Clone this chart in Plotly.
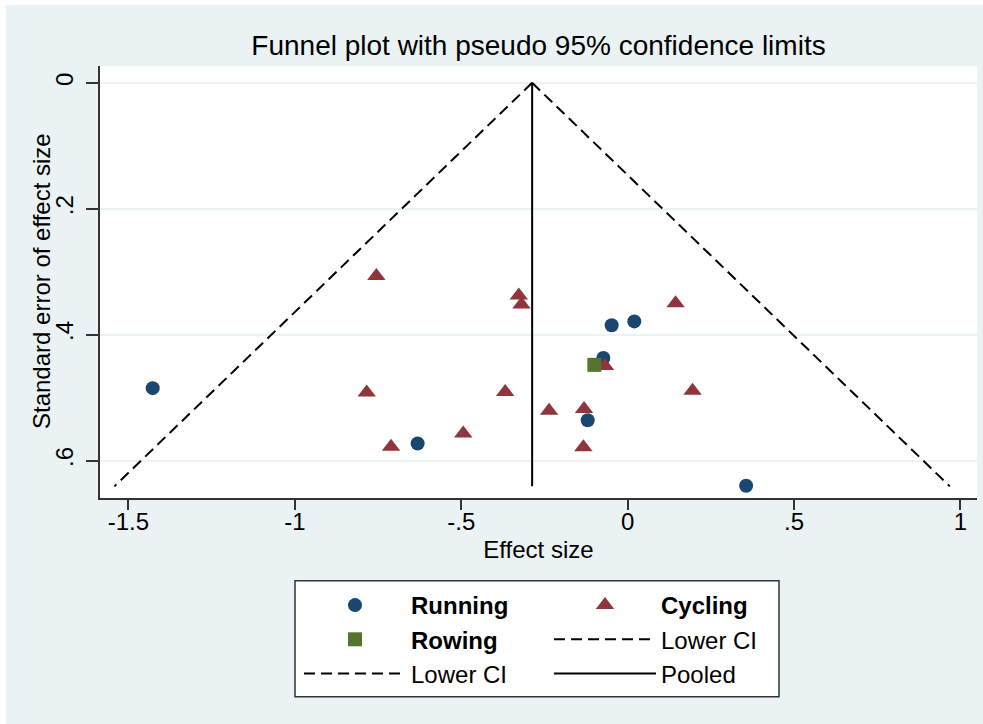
import plotly.graph_objects as go

# ---- data ----
running_x = [-1.427, -0.631, -0.048, 0.020, -0.073, -0.120, 0.356]
running_se = [0.485, 0.573, 0.385, 0.379, 0.437, 0.536, 0.640]

cycling_x = [-0.755, -0.327, -0.319, -0.784, -0.368, -0.711, -0.494,
             -0.236, -0.131, -0.133, 0.144, 0.195, -0.068]
cycling_se = [0.307, 0.338, 0.352, 0.492, 0.491, 0.578, 0.557,
              0.521, 0.518, 0.579, 0.350, 0.489, 0.450]

rowing_x = [-0.100]
rowing_se = [0.448]

pooled = -0.287
ci_se = [0.0, 0.641]
lower_ci_x = [-0.287, -1.542]
upper_ci_x = [-0.287, 0.968]
pooled_x = [pooled, pooled]

x_ticks = [-1.5, -1, -0.5, 0, 0.5, 1]
x_ticktext = ["-1.5", "-1", "-.5", "0", ".5", "1"]
y_ticks = [0, 0.2, 0.4, 0.6]
y_ticktext = ["0", ".2", ".4", ".6"]

NAVY = "#1a476f"
MAROON = "#90353b"
GREEN = "#55752f"
BG = "#eaf2f3"
FONT = "Liberation Sans, Arial, sans-serif"

fig = go.Figure()

dash = "11px,6px"
fig.add_trace(go.Scatter(x=lower_ci_x, y=ci_se, mode="lines", name="Lower CI",
                         line=dict(color="black", width=2, dash=dash),
                         legend="legend", legendrank=3))
fig.add_trace(go.Scatter(x=upper_ci_x, y=ci_se, mode="lines", name="Lower CI",
                         line=dict(color="black", width=2, dash=dash),
                         legend="legend2", legendrank=2))
fig.add_trace(go.Scatter(x=pooled_x, y=ci_se, mode="lines", name="Pooled",
                         line=dict(color="black", width=2),
                         legend="legend2", legendrank=3))

fig.add_trace(go.Scatter(x=running_x, y=running_se, mode="markers", name="<b>Running</b>",
                         marker=dict(symbol="circle", size=14, color=NAVY),
                         legend="legend", legendrank=1))
fig.add_trace(go.Scatter(x=cycling_x, y=cycling_se, mode="markers", name="<b>Cycling</b>",
                         marker=dict(symbol="triangle-up", size=16, color=MAROON),
                         legend="legend2", legendrank=1))
fig.add_trace(go.Scatter(x=rowing_x, y=rowing_se, mode="markers", name="<b>Rowing</b>",
                         marker=dict(symbol="square", size=14, color=GREEN),
                         legend="legend", legendrank=2))

leg_common = dict(bgcolor="rgba(0,0,0,0)", borderwidth=0, itemwidth=102,
                  font=dict(family=FONT, size=24, color="black"),
                  xanchor="left", yanchor="top", tracegroupgap=0,
                  itemclick=False, itemdoubleclick=False)

fig.update_layout(
    width=983, height=724,
    margin=dict(l=100, r=6, t=66, b=226, autoexpand=False),
    paper_bgcolor=BG, plot_bgcolor="white",
    font=dict(family=FONT, size=24, color="black"),
    title=dict(text="Funnel plot with pseudo 95% confidence limits",
               x=0.5, xref="paper", xanchor="center",
               y=1 - 45 / 724, yref="container", yanchor="middle",
               font=dict(family=FONT, size=28, color="black")),
    xaxis=dict(range=[-1.5853, 1.0496], tickvals=x_ticks, ticktext=x_ticktext,
               showgrid=False, zeroline=False, showline=True, linecolor="#333333",
               linewidth=1.5, ticks="outside", ticklen=10, tickwidth=1.5,
               tickcolor="#333333", tickfont=dict(size=24), ticklabelstandoff=-9,
               title=dict(text="Effect size", font=dict(size=24), standoff=8)),
    yaxis=dict(range=[0.6595, -0.0267], tickvals=y_ticks, ticktext=y_ticktext,
               showgrid=True, gridcolor=BG, gridwidth=2, zeroline=False,
               showline=True, linecolor="#333333", linewidth=1.5,
               ticks="outside", ticklen=12, tickwidth=1.5, tickcolor="#333333",
               tickangle=-90, tickfont=dict(size=24), ticklabelstandoff=4),
    annotations=[
        dict(text="Standard error of effect size", xref="paper", yref="paper",
             x=(41 - 100) / 877, y=(498 - 281) / 432, xanchor="center", yanchor="middle",
             textangle=-90, showarrow=False, font=dict(family=FONT, size=24, color="black")),
    ],
    legend=dict(x=(299 - 100) / 877, y=(498 - 583) / 432, **leg_common),
    legend2=dict(x=(549 - 100) / 877, y=(498 - 583) / 432, **leg_common),
    shapes=[
        dict(type="rect", xref="paper", yref="paper",
             x0=(295 - 100) / 877, x1=(779 - 100) / 877,
             y0=(498 - 580.7) / 432, y1=(498 - 696.7) / 432,
             fillcolor="white", line=dict(color="#333333", width=1.5), layer="below"),
        dict(type="rect", xref="paper", yref="paper",
             x0=-100 / 877, x1=(6 - 100) / 877, y0=(498 - 724) / 432, y1=498 / 432,
             fillcolor="white", line=dict(width=0), layer="below"),
        dict(type="rect", xref="paper", yref="paper",
             x0=-100 / 877, x1=(983 - 100) / 877, y0=(498 - 5) / 432, y1=498 / 432,
             fillcolor="white", line=dict(width=0), layer="below"),
    ],
)

fig.write_html("out.html", config={"displayModeBar": False},
               post_script="document.body.style.margin='0';document.body.style.overflow='hidden';")
